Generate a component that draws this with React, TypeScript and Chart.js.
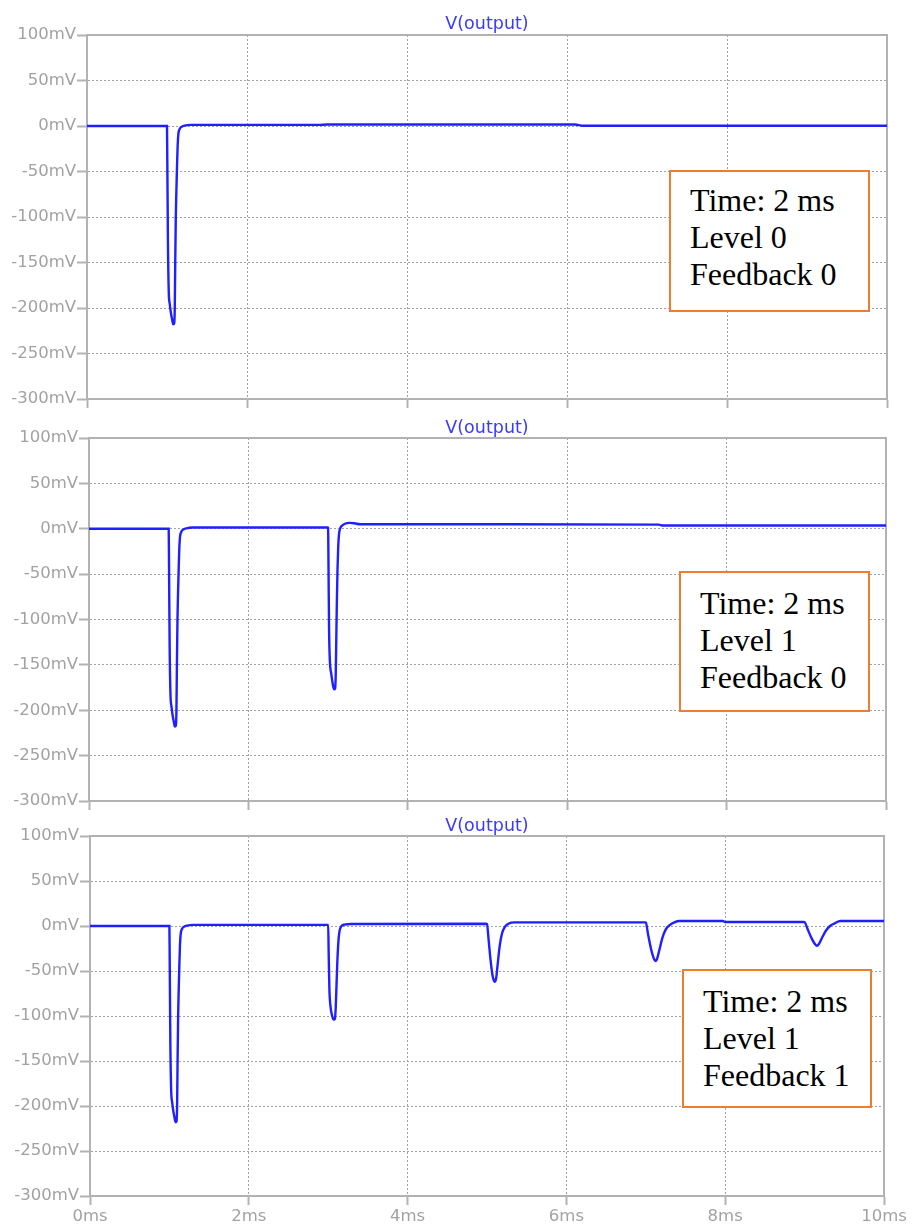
import React, { useEffect, useRef } from "react";
import { Chart, registerables } from "chart.js";

Chart.register(...registerables);

// ---- Data ----
const TITLE = "V(output)";
const X_MIN_MS = 0;
const X_MAX_MS = 10;
const X_STEP_MS = 2;
const Y_MIN_MV = -300;
const Y_MAX_MV = 100;
const Y_STEP_MV = 50;

// Panel 1: Time 2 ms, Level 0, Feedback 0
const p1Time = [0, 1.0, 1.004, 1.012, 1.022, 1.035, 1.05, 1.065, 1.078, 1.09, 1.097, 1.103, 1.11, 1.117, 1.125, 1.133, 1.142, 1.16, 1.19, 1.22, 1.3, 2.9, 3.0, 3.1, 6.1, 6.2, 10];
const p1Volt = [0, 0, -40, -130, -182, -196, -206, -213, -218, -217, -200, -150, -100, -72, -45, -22, -9, -3, -0.5, 0.5, 1.2, 1.2, 1.6, 1.6, 1.6, 0.3, 0.3];

// Panel 2: Time 2 ms, Level 1, Feedback 0
const p2Time = [0, 1.0, 1.004, 1.012, 1.022, 1.035, 1.05, 1.065, 1.078, 1.09, 1.097, 1.103, 1.11, 1.117, 1.125, 1.133, 1.142, 1.16, 1.19, 1.22, 1.3, 2.995, 3.0, 3.005, 3.012, 3.022, 3.04, 3.06, 3.075, 3.088, 3.096, 3.103, 3.11, 3.118, 3.127, 3.137, 3.15, 3.17, 3.21, 3.27, 3.33, 3.4, 5.0, 7.15, 7.2, 10];
const p2Volt = [0, 0, -40, -130, -182, -196, -206, -213, -218, -217, -200, -150, -100, -72, -45, -22, -9, -3, -0.5, 0.5, 1.3, 1.3, 1, -40, -110, -145, -160, -172, -177, -176, -160, -120, -80, -45, -20, -6, 0, 3, 5.5, 6.5, 6, 5, 5, 4.5, 3.5, 3.5];

// Panel 3: Time 2 ms, Level 1, Feedback 1
const p3Time = [0, 1.0, 1.004, 1.012, 1.022, 1.035, 1.05, 1.065, 1.078, 1.09, 1.097, 1.103, 1.11, 1.117, 1.125, 1.133, 1.142, 1.16, 1.19, 1.22, 1.3,
  3.0, 3.006, 3.015, 3.03, 3.05, 3.07, 3.085, 3.095, 3.105, 3.115, 3.128, 3.14, 3.16, 3.2, 3.3,
  4.99, 5.0, 5.02, 5.045, 5.07, 5.095, 5.115, 5.135, 5.16, 5.19, 5.225, 5.27, 5.35, 5.5,
  6.99, 7.0, 7.03, 7.07, 7.1, 7.12, 7.14, 7.17, 7.21, 7.25, 7.3, 7.36, 7.42, 7.97, 8.0,
  8.99, 9.0, 9.04, 9.09, 9.13, 9.155, 9.18, 9.22, 9.27, 9.32, 9.38, 9.45, 10];
const p3Volt = [0, 0, -40, -130, -182, -196, -206, -213, -218, -217, -200, -150, -100, -72, -45, -22, -9, -3, -0.5, 0.5, 1.3,
  1.3, -30, -70, -90, -100, -104, -103, -90, -65, -40, -18, -7, -1, 1.5, 2.2,
  2.5, 2.3, -15, -38, -55, -62, -58, -42, -22, -8, -1, 2.5, 4, 4,
  4, 3.8, -10, -27, -36, -39, -37, -27, -13, -4, 1, 4, 5.5, 5.5, 4.5,
  4.5, 4.3, -4, -14, -20, -22, -20, -13, -5, 0, 3, 5.5, 5.5];

const box1Lines = ["Time: 2 ms", "Level 0", "Feedback 0"];
const box2Lines = ["Time: 2 ms", "Level 1", "Feedback 0"];
const box3Lines = ["Time: 2 ms", "Level 1", "Feedback 1"];

// ---- Styles ----
const TRACE = "#1f1fff";
const TITLE_COLOR = "#3a3aff";
const LABEL_COLOR = "#a2a2a2";
const FRAME_COLOR = "#b2b2b2";
const GRID_COLOR = "#a0a0a0";
const BOX_COLOR = "#ed7d31";
const AXIS_FONT = { family: "'DejaVu Sans', Verdana, sans-serif", size: 16.5 };

const framePlugin = {
  id: "frame",
  beforeDatasetsDraw(chart: any) {
    const { ctx, chartArea: a } = chart;
    ctx.save();
    ctx.strokeStyle = FRAME_COLOR;
    ctx.lineWidth = 2;
    ctx.strokeRect(a.left, a.top, a.right - a.left, a.bottom - a.top);
    ctx.restore();
  },
};

type PanelProps = {
  canvasTop: number;
  canvasHeight: number;
  areaTop: number;
  areaBottom: number;
  areaLeft: number;
  areaRight: number;
  time: number[];
  volt: number[];
  showXLabels: boolean;
};

function Panel(p: PanelProps) {
  const ref = useRef<HTMLCanvasElement | null>(null);
  useEffect(() => {
    if (!ref.current) return;
    const yWidth = p.areaLeft;
    const xHeight = p.canvasTop + p.canvasHeight - p.areaBottom;
    const chart = new Chart(ref.current, {
      type: "line",
      data: {
        datasets: [
          {
            data: p.time.map((t, i) => ({ x: t, y: p.volt[i] })),
            borderColor: TRACE,
            borderWidth: 2.4,
            pointRadius: 0,
            fill: false,
            cubicInterpolationMode: "monotone",
          },
        ],
      },
      options: {
        animation: false,
        responsive: false,
        devicePixelRatio: 1,
        events: [],
        layout: {
          padding: {
            top: p.areaTop - p.canvasTop,
            right: 912 - p.areaRight,
            left: 0,
            bottom: 0,
          },
        },
        plugins: { legend: { display: false }, tooltip: { enabled: false }, title: { display: false } },
        scales: {
          x: {
            type: "linear",
            min: X_MIN_MS,
            max: X_MAX_MS,
            afterFit(scale: any) {
              scale.height = xHeight;
            },
            ticks: {
              stepSize: X_STEP_MS,
              display: p.showXLabels,
              color: LABEL_COLOR,
              font: AXIS_FONT,
              padding: 2,
              maxRotation: 0,
              callback: (v: any) => `${v}ms`,
            },
            grid: {
              color: GRID_COLOR,
              lineWidth: 1,
              drawTicks: true,
              tickLength: 9,
              tickColor: FRAME_COLOR,
              tickWidth: 2,
              tickBorderDash: [],
            },
            border: { display: true, color: FRAME_COLOR, width: 2, dash: [2, 2] },
          },
          y: {
            type: "linear",
            min: Y_MIN_MV,
            max: Y_MAX_MV,
            afterFit(scale: any) {
              scale.width = yWidth;
            },
            ticks: {
              stepSize: Y_STEP_MV,
              color: LABEL_COLOR,
              font: AXIS_FONT,
              padding: 1,
              callback: (v: any) => `${v}mV`,
            },
            grid: {
              color: GRID_COLOR,
              lineWidth: 1,
              drawTicks: true,
              tickLength: 10,
              tickColor: FRAME_COLOR,
              tickWidth: 2,
              tickBorderDash: [],
            },
            border: { display: true, color: FRAME_COLOR, width: 2, dash: [2, 2] },
          },
        },
      } as any,
      plugins: [framePlugin],
    });
    return () => chart.destroy();
  }, []);
  return (
    <canvas
      ref={ref}
      width={912}
      height={p.canvasHeight}
      style={{ position: "absolute", left: 0, top: p.canvasTop, width: 912, height: p.canvasHeight }}
    />
  );
}

function Title({ cx, cy }: { cx: number; cy: number }) {
  return (
    <div
      style={{
        position: "absolute",
        left: cx,
        top: cy,
        transform: "translate(-50%, -50%)",
        fontFamily: "'DejaVu Sans', Verdana, sans-serif",
        fontSize: 17.5,
        lineHeight: "18px",
        color: TITLE_COLOR,
        whiteSpace: "nowrap",
      }}
    >
      {TITLE}
    </div>
  );
}

function NoteBox({ left, top, width, height, padTop, lines }: { left: number; top: number; width: number; height: number; padTop: number; lines: string[] }) {
  return (
    <div
      style={{
        position: "absolute",
        left,
        top,
        width,
        height,
        boxSizing: "border-box",
        border: `2px solid ${BOX_COLOR}`,
        background: "#ffffff",
        paddingTop: padTop,
        paddingLeft: 19,
        fontFamily: "'Liberation Serif', 'Times New Roman', serif",
        fontSize: 32,
        lineHeight: "37px",
        color: "#000000",
        whiteSpace: "nowrap",
      }}
    >
      {lines.map((l, i) => (
        <div key={i}>{l}</div>
      ))}
    </div>
  );
}

export default function App() {
  return (
    <div style={{ position: "absolute", left: 0, top: 0, width: 912, height: 1228, background: "#ffffff", overflow: "hidden" }}>
      <Panel canvasTop={0} canvasHeight={420} areaTop={35} areaBottom={399} areaLeft={87} areaRight={887} time={p1Time} volt={p1Volt} showXLabels={false} />
      <Panel canvasTop={420} canvasHeight={400} areaTop={438} areaBottom={801} areaLeft={89} areaRight={886} time={p2Time} volt={p2Volt} showXLabels={false} />
      <Panel canvasTop={820} canvasHeight={408} areaTop={836} areaBottom={1196} areaLeft={90} areaRight={884} time={p3Time} volt={p3Volt} showXLabels={true} />
      <Title cx={487} cy={23} />
      <Title cx={487} cy={427} />
      <Title cx={487} cy={825} />
      <NoteBox left={669} top={170} width={201} height={142} padTop={10} lines={box1Lines} />
      <NoteBox left={679} top={571} width={191} height={141} padTop={12} lines={box2Lines} />
      <NoteBox left={682} top={969} width={190} height={139} padTop={12} lines={box3Lines} />
    </div>
  );
}
